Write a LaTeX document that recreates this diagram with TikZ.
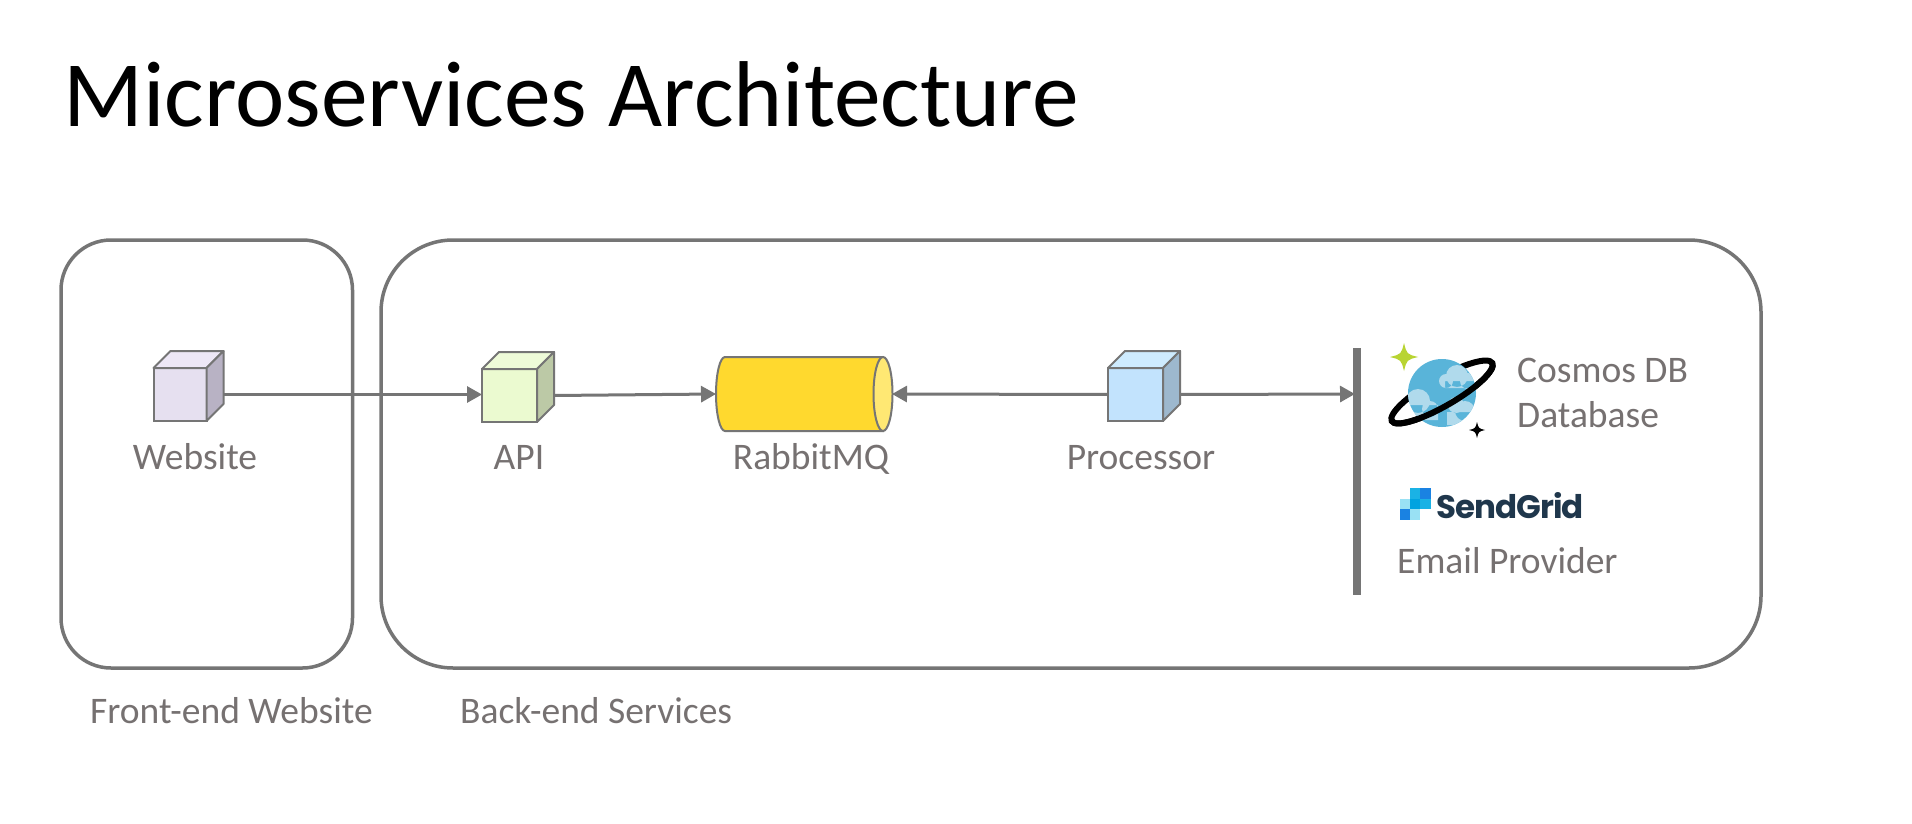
\documentclass[tikz,border=0pt]{standalone}
\usepackage{fontspec}
\setmainfont{Carlito}
\newfontfamily\logofont{Poppins}
\usetikzlibrary{arrows.meta}
\definecolor{linegray}{HTML}{757575}
\definecolor{textgray}{HTML}{767171}
\definecolor{planetblue}{HTML}{59B4D9}
\definecolor{cloudblue}{HTML}{B0DAEC}
\definecolor{gridblue}{HTML}{1A82E2}
\definecolor{gridmid}{HTML}{00A3E0}
\definecolor{gridcyan}{HTML}{1AB2E5}
\definecolor{gridpale}{HTML}{99E1F4}
\definecolor{sparkgreen}{HTML}{B8D432}
\definecolor{websitefront}{HTML}{E6E0F0}
\definecolor{websitetop}{HTML}{EDE7F6}
\definecolor{websiteside}{HTML}{B8B2C4}
\definecolor{apifront}{HTML}{EBFAD0}
\definecolor{apitop}{HTML}{EEFBD8}
\definecolor{apiside}{HTML}{BCC9A6}
\definecolor{processorfront}{HTML}{C2E3FD}
\definecolor{processortop}{HTML}{CEEBFE}
\definecolor{processorside}{HTML}{9DB8CE}
\definecolor{queuebody}{HTML}{FFD92E}
\definecolor{queueend}{HTML}{FFE873}
\newcommand{\cubebox}[7]{
	\node[cubeface, fill=#4, minimum width=#7pt] (#1) at (#2, #3) {};
	\fill[#5, draw=linegray, line width=2pt, line join=round] (#1.north west) -- ++(17,-17) -- ++(#7,0) -- (#1.north east) -- cycle;
	\fill[#6, draw=linegray, line width=2pt, line join=round] (#1.north east) -- ++(17,-17) -- ++(0,53) -- (#1.south east) -- cycle;
	\coordinate (#1back) at ([xshift=17pt]#1.east);
}
\newcommand{\sparkle}[4]{
	\fill[#4] (#1-#3, #2) .. controls (#1-#3*0.2, #2-#3*0.2) .. (#1, #2-#3) .. controls (#1+#3*0.2, #2-#3*0.2) .. (#1+#3, #2) .. controls (#1+#3*0.2, #2+#3*0.2) .. (#1, #2+#3) .. controls (#1-#3*0.2, #2+#3*0.2) .. cycle;
}
\begin{document}
\begin{tikzpicture}[x=1pt, y=-1pt]
	\tikzset{
		groupbox/.style={draw=linegray, line width=3.5pt},
		cubeface/.style={draw=linegray, line width=2pt, minimum height=53pt, inner sep=0pt, outer sep=0pt},
		flow/.style={draw=linegray, line width=3pt, -{Triangle[length=15pt, width=16pt]}},
		label/.style={text=textgray, font=\fontsize{37.5}{45}\selectfont, inner sep=0pt, anchor=base},
		leftlabel/.style={label, anchor=base west},
		gridcell/.style={minimum size=10.4pt, inner sep=0pt, outer sep=0pt}
	}
	\useasboundingbox (0,0) rectangle (1912,824);
	\fill[white] (0,0) rectangle (1912,824);
	\node[anchor=base west, inner sep=0pt, font=\fontsize{93.5}{100}\selectfont] (title) at (63,127) {Microservices Architecture};
	\draw[groupbox, rounded corners=50pt] (61,240) rectangle (352.5,668);
	\draw[groupbox, rounded corners=72pt] (381,240) rectangle (1761,668);
	\cubebox{website}{180}{394.5}{websitefront}{websitetop}{websiteside}{53}
	\cubebox{api}{509.5}{395.5}{apifront}{apitop}{apiside}{55}
	\cubebox{processor}{1135.5}{394.5}{processorfront}{processortop}{processorside}{55}
	\node[minimum width=176pt, minimum height=74pt, inner sep=0pt, outer sep=0pt] (rabbitmq) at (804,394) {};
	\fill[queuebody, draw=linegray, line width=2pt] (883,357) -- (725,357) arc[start angle=270, end angle=90, x radius=9, y radius=37] -- (883,431) -- cycle;
	\fill[queueend, draw=linegray, line width=2pt] (883,394) ellipse[x radius=9.5, y radius=37];
	\draw[line width=8pt, draw=linegray] (1357,348) -- (1357,595);
	\coordinate (storebar) at (1355,394);
	\draw[flow] (websiteback) -- (websiteback -| api.west);
	\draw[flow] (apiback) -- (rabbitmq.west);
	\draw[flow] (processor.west) -- (rabbitmq.east);
	\draw[flow] (processorback) -- (storebar);
	\node[label] (websitelabel) at (195,469) {Website};
	\node[label] (apilabel) at (519,469) {API};
	\node[label] (rabbitlabel) at (811,469) {RabbitMQ};
	\node[label] (processorlabel) at (1141,469) {Processor};
	\node[leftlabel] (cosmoslabel) at (1517,382) {Cosmos DB};
	\node[leftlabel] (databaselabel) at (1517,427) {Database};
	\node[leftlabel] (emaillabel) at (1397,573) {Email Provider};
	\node[leftlabel] (frontlabel) at (90,723) {Front-end Website};
	\node[leftlabel] (backlabel) at (460,723) {Back-end Services};
	\draw[black, line width=6pt] (1442,392) ellipse[x radius=58, y radius=14, rotate=30];
	\fill[planetblue] (1442,393) circle (34);
	\begin{scope}
		\clip (1442,393) circle (34);
		\fill[cloudblue] (1446,381) circle (7) (1457,376) circle (11) (1468,381) circle (8) (1445,381) rectangle (1476,388);
		\fill[cloudblue] (1418,401) circle (12) (1430,409) circle (8) (1405,405) rectangle (1438,420);
		\fill[cloudblue] (1456,405) circle (8) (1465,411) circle (10) (1447,412) rectangle (1474,425);
	\end{scope}
	\draw[black, line width=6pt, line cap=round, rotate around={30:(1442,392)}] (1384,392) arc[start angle=180, end angle=0, x radius=58, y radius=14];
	\sparkle{1404}{357}{14}{sparkgreen}
	\sparkle{1477}{430}{8}{black}
	\node[gridcell, fill=gridcyan] (cella) at (1415.2,493.5) {};
	\node[gridcell, fill=gridblue] (cellb) at (1425.6,493.5) {};
	\node[gridcell, fill=gridpale] (cellc) at (1404.8,503.9) {};
	\node[gridcell, fill=gridmid] (celld) at (1415.2,503.9) {};
	\node[gridcell, fill=gridcyan] (celle) at (1425.6,503.9) {};
	\node[gridcell, fill=gridblue] (cellf) at (1404.8,514.3) {};
	\node[gridcell, fill=gridpale] (cellg) at (1415.2,514.3) {};
	\node[anchor=base west, inner sep=0pt, text={rgb,255:red,31;green,55;blue,76}, font=\logofont\fontsize{32.5}{40}\selectfont] (sendgrid) at (1436,518) {\addfontfeatures{LetterSpace=-3}\textbf{SendGrid}};
\end{tikzpicture}
\end{document}
